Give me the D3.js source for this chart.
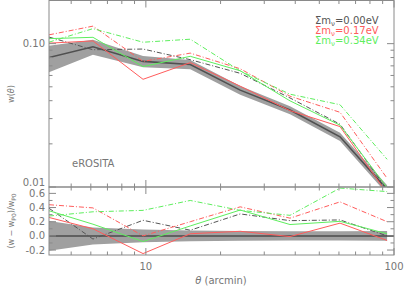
<!DOCTYPE html>
<html><head><meta charset="utf-8">
<script src="https://cdn.jsdelivr.net/npm/d3@7"></script>
<style>
html,body{margin:0;padding:0;background:#fff;}
svg{display:block;font-family:"DejaVu Sans",sans-serif;}
</style></head>
<body>
<script>
// ---- data ----
const theta = [4.07, 6.12, 9.74, 15.1, 24.0, 38.1, 60.6, 93.8];
// fiducial (P0) w(theta) and its relative error band
const wP0     = [0.080, 0.095, 0.0752, 0.0716, 0.0474, 0.0344, 0.0224, 0.0096];
const relErr  = [0.21, 0.12, 0.09, 0.075, 0.07, 0.065, 0.065, 0.07];
// other realisations, top panel w(theta)
const w000dd  = [0.1112, 0.0907, 0.0917, 0.0773, 0.0621, 0.0418, 0.0274, 0.0096];
const w017    = [0.1008, 0.1045, 0.0564, 0.0737, 0.0505, 0.0341, 0.0264, 0.0090];
const w017dd  = [0.1152, 0.1325, 0.0752, 0.0859, 0.0668, 0.0430, 0.0332, 0.0115];
const w034    = [0.1084, 0.1107, 0.0692, 0.0816, 0.0647, 0.0399, 0.0270, 0.0099];
const w034dd  = [0.1024, 0.1273, 0.1023, 0.1074, 0.0645, 0.0444, 0.0375, 0.0156];
// bottom panel (w - wP0)/wP0
const r000dd  = [0.39, -0.045, 0.22, 0.08, 0.31, 0.215, 0.225, 0.0];
const r017    = [0.26, 0.10, -0.25, 0.03, 0.065, -0.01, 0.18, -0.065];
const r017dd  = [0.44, 0.395, 0.0, 0.2, 0.41, 0.25, 0.48, 0.2];
const r034    = [0.355, 0.165, -0.08, 0.14, 0.365, 0.16, 0.205, 0.03];
const r034dd  = [0.28, 0.34, 0.36, 0.5, 0.36, 0.29, 0.675, 0.625];
// ticks & labels
const xMajor = [10, 100];
const xMinor = [5,6,7,8,9,20,30,40,50,60,70,80,90];
const yTopMajor = [0.01, 0.1];
const yTopMajorLabels = ["0.01", "0.10"];
const yTopMinor = [0.02,0.03,0.04,0.05,0.06,0.07,0.08,0.09,0.2];
const yBotMajor = [-0.2, 0.0, 0.2, 0.4, 0.6];
const yBotMinor = [-0.1, 0.1, 0.3, 0.5];
const legendLabels = ["0.00eV", "0.17eV", "0.34eV"];
const annotation = "eROSITA";

const W = 415, H = 297;
const L = 49, R = 394, T = 0.5, MID = 187, B = 255;
const cGrey = "#767676", cRed = "#ff5c5c", cGreen = "#5eee5e", cDark = "#555";
const dd = "5,2,1,2";

const svg = d3.select("body").append("svg").attr("width", W).attr("height", H);
const x = d3.scaleLog().domain([4.07, 100]).range([L, R]);
const yT = d3.scaleLog().domain([0.01, 0.2]).range([MID, T]);
const yB = d3.scaleLinear().domain([-0.27, 0.69]).range([B, MID]);

const defs = svg.append("defs");
defs.append("clipPath").attr("id","cT").append("rect").attr("x",L).attr("y",T).attr("width",R-L).attr("height",MID-T);
defs.append("clipPath").attr("id","cB").append("rect").attr("x",L).attr("y",MID).attr("width",R-L).attr("height",B-MID);

const gT = svg.append("g").attr("clip-path","url(#cT)");
const gB = svg.append("g").attr("clip-path","url(#cB)");

// top band
const idx = d3.range(theta.length);
gT.append("path").datum(idx)
  .attr("d", d3.area().x(i=>x(theta[i])).y0(i=>yT(wP0[i]*(1-relErr[i]))).y1(i=>yT(wP0[i]*(1+relErr[i]))))
  .attr("fill","#a0a0a0");
gT.append("path").datum(idx)
  .attr("d", d3.line().x(i=>x(theta[i])).y(i=>yT(wP0[i])))
  .attr("fill","none").attr("stroke","#505050").attr("stroke-width",1.6);

const topSeries = [
  {v:w000dd, c:cDark, d:dd},
  {v:w017,   c:cRed,  d:null},
  {v:w017dd, c:cRed,  d:dd},
  {v:w034,   c:cGreen,d:null},
  {v:w034dd, c:cGreen,d:dd}
];
topSeries.forEach(s=>{
  gT.append("path").datum(idx)
    .attr("d", d3.line().x(i=>x(theta[i])).y(i=>yT(s.v[i])))
    .attr("fill","none").attr("stroke",s.c).attr("stroke-width",1)
    .attr("stroke-dasharray", s.d);
});

// bottom band
gB.append("path").datum(idx)
  .attr("d", d3.area().x(i=>x(theta[i])).y0(i=>yB(-relErr[i])).y1(i=>yB(relErr[i])))
  .attr("fill","#a0a0a0");
gB.append("line").attr("x1",L).attr("x2",R).attr("y1",yB(0)).attr("y2",yB(0))
  .attr("stroke","#606060").attr("stroke-width",2);
const botSeries = [
  {v:r000dd, c:cDark, d:dd},
  {v:r017,   c:cRed,  d:null},
  {v:r017dd, c:cRed,  d:dd},
  {v:r034,   c:cGreen,d:null},
  {v:r034dd, c:cGreen,d:dd}
];
botSeries.forEach(s=>{
  gB.append("path").datum(idx)
    .attr("d", d3.line().x(i=>x(theta[i])).y(i=>yB(s.v[i])))
    .attr("fill","none").attr("stroke",s.c).attr("stroke-width",1)
    .attr("stroke-dasharray", s.d);
});

// frames
const ax = svg.append("g").attr("stroke","#8a8a8a").attr("fill","none").attr("stroke-width",1);
ax.append("rect").attr("x",L).attr("y",T).attr("width",R-L).attr("height",MID-T);
ax.append("rect").attr("x",L).attr("y",MID).attr("width",R-L).attr("height",B-MID);

function hTick(xv, y0, len){ ax.append("line").attr("x1",x(xv)).attr("x2",x(xv)).attr("y1",y0).attr("y2",y0+len); }
function vTick(xp, yv, len){ ax.append("line").attr("x1",xp).attr("x2",xp+len).attr("y1",yv).attr("y2",yv); }
const MJ = 7, MN = 3.5;
[[T,1],[MID,-1],[MID,1],[B,-1]].forEach(([y0,dir])=>{
  xMajor.forEach(v=>hTick(v,y0,dir*MJ));
  xMinor.forEach(v=>hTick(v,y0,dir*MN));
});
yTopMajor.forEach(v=>{vTick(L,yT(v),MJ); vTick(R,yT(v),-MJ);});
yTopMinor.forEach(v=>{vTick(L,yT(v),MN); vTick(R,yT(v),-MN);});
yBotMajor.forEach(v=>{vTick(L,yB(v),MJ); vTick(R,yB(v),-MJ);});
yBotMinor.forEach(v=>{vTick(L,yB(v),MN); vTick(R,yB(v),-MN);});

// labels
const tx = svg.append("g").attr("fill",cGrey).attr("font-size",10);
yTopMajor.forEach((v,i)=>{
  tx.append("text").attr("x",L-4).attr("y",yT(v)).attr("dy", i===0 ? "-0.1em" : "0.35em")
    .attr("text-anchor","end").text(yTopMajorLabels[i]);
});
yBotMajor.forEach(v=>{
  tx.append("text").attr("x",L-4).attr("y",yB(v)).attr("dy","0.35em")
    .attr("text-anchor","end").text(d3.format(".1f")(v).replace("−","-"));
});
xMajor.forEach(v=>{
  tx.append("text").attr("x",x(v)).attr("y",270).attr("text-anchor","middle").text(v);
});
const xl = tx.append("text").attr("x",221).attr("y",284).attr("text-anchor","middle");
xl.append("tspan").attr("font-style","italic").text("θ");
xl.append("tspan").text(" (arcmin)");

tx.append("text").attr("x",72).attr("y",167).text(annotation);

const yl1 = tx.append("text").attr("transform","translate(14,94) rotate(-90)").attr("text-anchor","middle").attr("font-size",8);
yl1.append("tspan").text("w(");
yl1.append("tspan").attr("font-style","italic").text("θ");
yl1.append("tspan").text(")");
const yl2 = tx.append("text").attr("transform","translate(14,221) rotate(-90)").attr("text-anchor","middle").attr("font-size",8);
yl2.append("tspan").text("(w − w");
yl2.append("tspan").attr("font-size",6).attr("dy",2).text("P0");
yl2.append("tspan").attr("dy",-2).text(")/w");
yl2.append("tspan").attr("font-size",6).attr("dy",2).text("P0");

// legend
const legColors = ["#555", cRed, cGreen];
legendLabels.forEach((lab,i)=>{
  const t = svg.append("text").attr("x",315).attr("y",24+i*10).attr("font-size",10).attr("fill",legColors[i]);
  t.append("tspan").text("Σm");
  t.append("tspan").attr("font-size",7).attr("dy",2).text("ν");
  t.append("tspan").attr("dy",-2).text("=" + lab);
});
</script>
</body></html>
